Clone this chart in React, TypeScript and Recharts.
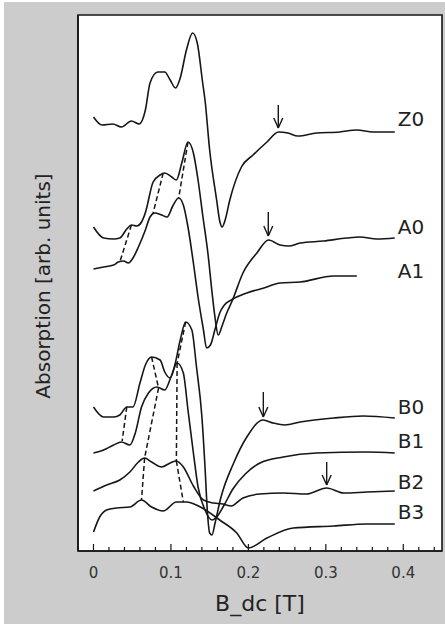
import {
  CartesianGrid,
  Line,
  LineChart,
  ReferenceArea,
  ReferenceDot,
  ReferenceLine,
  XAxis,
  YAxis,
} from "recharts";

type Pt = [number, number];

// absorption traces, y in arbitrary units (stacked offsets as in the figure)
const z0: Pt[] = [
  [0, 434], [0.011, 426], [0.025, 427], [0.036, 424], [0.049, 430], [0.059, 427],
  [0.067, 441], [0.073, 468], [0.083, 479], [0.092, 479], [0.099, 471], [0.106, 463],
  [0.112, 473], [0.12, 501], [0.128, 518], [0.134, 508], [0.141, 468], [0.144, 451],
  [0.15, 401], [0.159, 351], [0.163, 330], [0.166, 324], [0.17, 331], [0.176, 351],
  [0.191, 384], [0.206, 396], [0.224, 409], [0.239, 419], [0.251, 418], [0.264, 415],
  [0.288, 418], [0.318, 419], [0.34, 421], [0.361, 419], [0.389, 419],
];
const a0: Pt[] = [
  [0, 324], [0.013, 313], [0.026, 312], [0.034, 313], [0.043, 322], [0.049, 326],
  [0.056, 325], [0.062, 329], [0.069, 344], [0.071, 351], [0.077, 369], [0.086, 376],
  [0.092, 378], [0.101, 374], [0.107, 371], [0.114, 388], [0.122, 409], [0.129, 398],
  [0.135, 371], [0.141, 336], [0.148, 296], [0.153, 259], [0.157, 233], [0.161, 216],
  [0.166, 225], [0.172, 238], [0.179, 250], [0.193, 278], [0.211, 298], [0.226, 311],
  [0.241, 306], [0.252, 305], [0.267, 308], [0.297, 310], [0.327, 313], [0.344, 314],
  [0.366, 312], [0.389, 313],
];
const a1: Pt[] = [
  [0, 282], [0.013, 284], [0.026, 286], [0.032, 289], [0.039, 290], [0.045, 288],
  [0.051, 293], [0.058, 304], [0.067, 321], [0.073, 334], [0.079, 338], [0.088, 336],
  [0.095, 334], [0.103, 346], [0.11, 353], [0.116, 346], [0.122, 324], [0.129, 288],
  [0.135, 254], [0.142, 221], [0.146, 203], [0.151, 206], [0.157, 222], [0.163, 238],
  [0.169, 246], [0.178, 251], [0.198, 258], [0.22, 263], [0.241, 268], [0.267, 269],
  [0.31, 275], [0.34, 275],
];
const b0: Pt[] = [
  [0, 144], [0.013, 134], [0.026, 134], [0.034, 136], [0.043, 144], [0.051, 144],
  [0.06, 168], [0.067, 186], [0.075, 194], [0.086, 191], [0.092, 179], [0.099, 173],
  [0.105, 186], [0.112, 211], [0.119, 229], [0.127, 221], [0.133, 184], [0.14, 134],
  [0.144, 84], [0.147, 40], [0.15, 18], [0.153, 16], [0.157, 28], [0.164, 52],
  [0.181, 88], [0.198, 114], [0.219, 131], [0.232, 128], [0.247, 126], [0.267, 129],
  [0.31, 133], [0.348, 135], [0.389, 133],
];
const b1: Pt[] = [
  [0, 98], [0.013, 101], [0.026, 106], [0.036, 109], [0.047, 106], [0.054, 118],
  [0.062, 144], [0.071, 158], [0.082, 164], [0.092, 161], [0.101, 176], [0.108, 188],
  [0.116, 178], [0.122, 141], [0.129, 98], [0.135, 64], [0.144, 41], [0.153, 31],
  [0.159, 34], [0.168, 45], [0.18, 62], [0.196, 77], [0.215, 88], [0.245, 94],
  [0.288, 98], [0.353, 99], [0.389, 98],
];
const b2: Pt[] = [
  [0, 60], [0.017, 66], [0.034, 71], [0.047, 79], [0.058, 89], [0.066, 93],
  [0.075, 89], [0.088, 84], [0.099, 88], [0.107, 90], [0.116, 84], [0.129, 65],
  [0.142, 51], [0.155, 48], [0.167, 47], [0.178, 45], [0.186, 49], [0.193, 53],
  [0.215, 57], [0.245, 58], [0.275, 57], [0.301, 63], [0.323, 58], [0.353, 59],
  [0.389, 60],
];
const b3: Pt[] = [
  [0, 19], [0.008, 34], [0.017, 41], [0.03, 43], [0.047, 44], [0.062, 51],
  [0.075, 44], [0.09, 40], [0.107, 49], [0.12, 49], [0.138, 44], [0.163, 31],
  [0.185, 18], [0.2, 3], [0.224, 13], [0.258, 23], [0.31, 25], [0.353, 27],
  [0.389, 27],
];

const traces = [z0, a0, a1, b0, b1, b2, b3];
const traceNames = ["Z0", "A0", "A1", "B0", "B1", "B2", "B3"];
const nameLevels = [433, 325, 281, 145, 111, 70, 40];
const nameX = 0.393;

// peak-tracking dashed guides
const guides: Pt[][] = [
  [[0.049, 326], [0.034, 289]],
  [[0.09, 378], [0.077, 338]],
  [[0.122, 409], [0.11, 353]],
  [[0.043, 144], [0.037, 110]],
  [[0.075, 194], [0.084, 163], [0.066, 93], [0.062, 51]],
  [[0.119, 229], [0.108, 188], [0.107, 90], [0.116, 49]],
];

// arrows marking the high-field feature
const arrowX = [0.2386, 0.2257, 0.2193, 0.3011];
const arrowTop = [446, 339, 159, 89];
const arrowTip = [423, 315, 134, 66];

const majorTicks = [0, 0.1, 0.2, 0.3, 0.4];
const minorTicks = [
  -0.02, 0.02, 0.04, 0.06, 0.08, 0.12, 0.14, 0.16, 0.18, 0.22, 0.24, 0.26, 0.28,
  0.32, 0.34, 0.36, 0.38, 0.42, 0.44,
];
const allTicks = [...minorTicks, ...majorTicks].sort((p, q) => p - q);

const xDomain: [number, number] = [-0.02, 0.45];
const yDomain: [number, number] = [0, 536];

const ink = "#161616";
const font = "'DejaVu Sans', Verdana, sans-serif";

const toRows = (pts: Pt[]) => pts.map(([x, y]) => ({ x, y }));

function XTick(props: any) {
  const { x, y, payload } = props;
  const major = majorTicks.includes(payload.value);
  return (
    <g>
      <line x1={x} x2={x} y1={y} y2={y - (major ? 7 : 4)} stroke={ink} strokeWidth={1.2} />
      {major && (
        <text x={x} y={y + 27} textAnchor="middle" fontSize={15} fontFamily={font} fill="#333">
          {String(payload.value)}
        </text>
      )}
    </g>
  );
}

function XTitle(props: any) {
  const vb = props.viewBox;
  return (
    <text
      x={vb.x + vb.width / 2}
      y={vb.y + 60}
      textAnchor="middle"
      fontSize={22}
      fontFamily={font}
      fill="#222"
    >
      B_dc [T]
    </text>
  );
}

function YTitle(props: any) {
  const vb = props.viewBox;
  const cx = vb.x + 43;
  const cy = vb.y + vb.height / 2 + 3;
  return (
    <text
      x={cx}
      y={cy}
      transform={`rotate(-90, ${cx}, ${cy})`}
      textAnchor="middle"
      dominantBaseline="central"
      fontSize={20}
      fontFamily={font}
      fill="#222"
    >
      Absorption [arb. units]
    </text>
  );
}

export default function App() {
  return (
    <div style={{ position: "relative", width: 445, height: 624, background: "#fff" }}>
      <style>{"body{margin:0}"}</style>
      <div
        style={{ position: "absolute", left: 4, top: 2, right: 0, bottom: 0, background: "#cccccc" }}
      />
      <div style={{ position: "absolute", left: 0, top: 0 }}>
        <LineChart width={445} height={624} margin={{ top: 15, right: 3, bottom: 0, left: 0 }}>
          <CartesianGrid fill="#fff" fillOpacity={1} horizontal={false} vertical={false} />
          <XAxis
            dataKey="x"
            type="number"
            domain={xDomain}
            allowDataOverflow
            ticks={allTicks}
            interval={0}
            tickSize={0}
            tickMargin={0}
            tickLine={false}
            axisLine={{ stroke: ink, strokeWidth: 1.6 }}
            tick={<XTick />}
            height={73}
            label={<XTitle />}
          />
          <XAxis
            xAxisId="top"
            orientation="top"
            type="number"
            domain={xDomain}
            allowDataOverflow
            height={0}
            tick={false}
            tickLine={false}
            axisLine={{ stroke: ink, strokeWidth: 1.6 }}
          />
          <YAxis
            type="number"
            domain={yDomain}
            allowDataOverflow
            tick={false}
            tickLine={false}
            axisLine={{ stroke: ink, strokeWidth: 1.6 }}
            width={78}
            label={<YTitle />}
          />
          <YAxis
            yAxisId="right"
            orientation="right"
            type="number"
            domain={yDomain}
            allowDataOverflow
            width={0}
            tick={false}
            tickLine={false}
            axisLine={{ stroke: ink, strokeWidth: 1.6 }}
          />
          <ReferenceArea
            x1={xDomain[0]}
            x2={xDomain[1]}
            y1={yDomain[0]}
            y2={yDomain[1]}
            ifOverflow="visible"
            fill="none"
            stroke={ink}
            strokeWidth={1.6}
          />
          {traces.map((pts, i) => (
            <Line
              key={traceNames[i]}
              data={toRows(pts)}
              dataKey="y"
              type="monotone"
              stroke={ink}
              strokeWidth={1.6}
              dot={false}
              activeDot={false}
              isAnimationActive={false}
            />
          ))}
          {guides.flatMap((g, gi) =>
            g.slice(1).map((p, k) => (
              <ReferenceLine
                key={`g${gi}-${k}`}
                segment={[
                  { x: g[k][0], y: g[k][1] },
                  { x: p[0], y: p[1] },
                ]}
                stroke={ink}
                strokeWidth={1.5}
                strokeDasharray="5 3"
              />
            ))
          )}
          {arrowX.flatMap((ax, i) => [
            <ReferenceLine
              key={`as${i}`}
              segment={[
                { x: ax, y: arrowTop[i] },
                { x: ax, y: arrowTip[i] },
              ]}
              stroke={ink}
              strokeWidth={1.4}
            />,
            <ReferenceLine
              key={`al${i}`}
              segment={[
                { x: ax - 0.0058, y: arrowTip[i] + 10 },
                { x: ax, y: arrowTip[i] },
              ]}
              stroke={ink}
              strokeWidth={1.4}
            />,
            <ReferenceLine
              key={`ar${i}`}
              segment={[
                { x: ax + 0.0058, y: arrowTip[i] + 10 },
                { x: ax, y: arrowTip[i] },
              ]}
              stroke={ink}
              strokeWidth={1.4}
            />,
          ])}
          {traceNames.map((name, i) => (
            <ReferenceDot
              key={`n${name}`}
              x={nameX}
              y={nameLevels[i]}
              r={0}
              shape={(p: any) => (
                <text
                  x={p.cx}
                  y={p.cy + 7.5}
                  fontSize={20}
                  fontFamily={font}
                  fill="#222"
                >
                  {name}
                </text>
              )}
            />
          ))}
        </LineChart>
      </div>
    </div>
  );
}
